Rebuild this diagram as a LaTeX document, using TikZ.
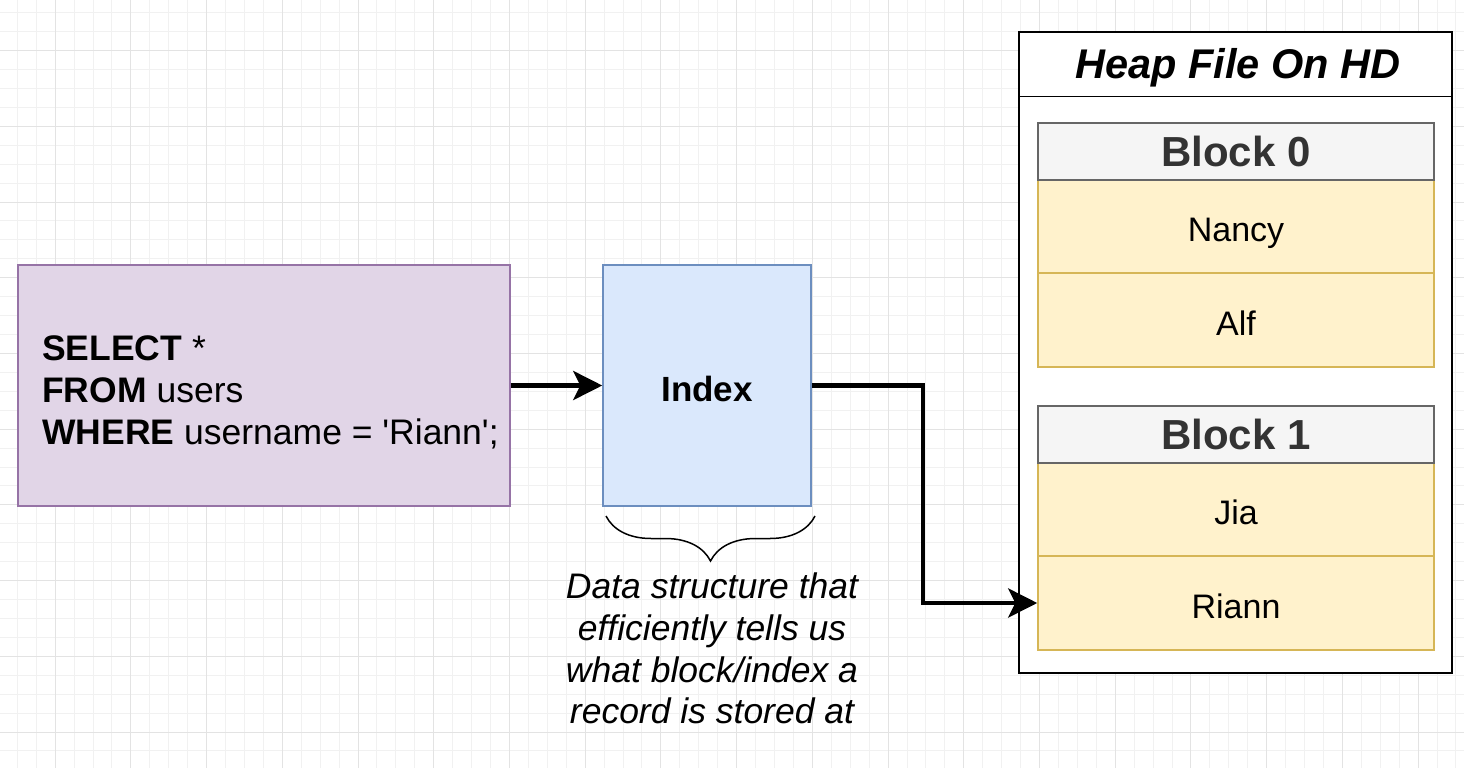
\documentclass[tikz,border=0pt]{standalone}
\usepackage{fontspec}
\setmainfont{Liberation Sans}
\usetikzlibrary{positioning, arrows.meta, decorations.pathreplacing}
\definecolor{querycolor}{HTML}{E1D5E7}
\definecolor{queryborder}{HTML}{9673A6}
\definecolor{indexcolor}{HTML}{DAE8FC}
\definecolor{indexborder}{HTML}{6C8EBF}
\definecolor{headcolor}{HTML}{F5F5F5}
\definecolor{headborder}{HTML}{666666}
\definecolor{headtext}{HTML}{333333}
\definecolor{recordcolor}{HTML}{FFF2CC}
\definecolor{recordborder}{HTML}{D6B656}
\definecolor{gridminor}{HTML}{F1F1F1}
\definecolor{gridmajor}{HTML}{E3E3E3}

\tikzset{
  blocktitle/.style={draw=headborder, fill=headcolor, line width=1.5pt, text=headtext,
    minimum width=396pt, minimum height=57pt, font=\fontsize{42}{50}\selectfont\bfseries},
  record/.style={draw=recordborder, fill=recordcolor, line width=1.5pt,
    minimum width=396pt, minimum height=94pt, text height=31.5pt, text depth=0pt,
    font=\fontsize{34}{40}\selectfont},
  link/.style={line width=4.5pt, -{Stealth[length=29pt, width=29pt, inset=7pt]}}
}

\begin{document}
\begin{tikzpicture}[x=1pt, y=-1pt]
            \useasboundingbox (0,0) rectangle (1464,768);
            \clip (0,0) rectangle (1464,768);

            % Raster
            \foreach \i in {0,...,78}
                \draw[gridminor, line width=1pt] (-1.63+\i*18.93, 0) -- ++(0,768);
            \foreach \j in {0,...,41}
                \draw[gridminor, line width=1pt] (0, -6.23+\j*18.93) -- ++(1464,0);
            \foreach \i in {3,7,...,75}
                \draw[gridmajor, line width=1pt] (-1.63+\i*18.93, 0) -- ++(0,768);
            \foreach \j in {3,7,...,39}
                \draw[gridmajor, line width=1pt] (0, -6.23+\j*18.93) -- ++(1464,0);

            % Consulta
            \node[draw=queryborder, fill=querycolor, line width=1.5pt, minimum width=492pt,
                  minimum height=241pt] (query) at (264,385.5) {};
            \node[anchor=west, align=left, inner sep=0pt, font=\fontsize{35.5}{42}\selectfont] (sql) at (42,392)
                  {\textbf{SELECT} *\\ \textbf{FROM} users\\ \textbf{WHERE} username = \textquotesingle Riann\textquotesingle;};

            % Indice
            \node[draw=indexborder, fill=indexcolor, line width=1.5pt, minimum width=208pt,
                  minimum height=241pt] (index) at (707,385.5) {};
            \node[font=\fontsize{35}{42}\selectfont\bfseries] at ([yshift=-3pt]index) {Index};

            \draw[link] (query) -- (index);

            % Llave y nota
            \coordinate (bracel) at (606,516);
            \coordinate (bracer) at (815,516);
            \draw[decorate, decoration={brace, amplitude=45pt, aspect=0.5}, line width=1.5pt] (bracer) -- (bracel);
            \node[font=\fontsize{35.5}{41.7}\selectfont\itshape, align=center] (note) at (712,648.5)
                  {Data structure that\\ efficiently tells us\\ what block/index a\\ record is stored at};

            % Archivo heap
            \node[draw, fill=white, line width=1.5pt, minimum width=433pt,
                  minimum height=641pt] (heap) at (1235.5,352.5) {};
            \draw[line width=1.5pt] ([yshift=-65pt]heap.north west) -- ([yshift=-65pt]heap.north east);
            \node[font=\fontsize{41.5}{48}\selectfont\bfseries\itshape] (title) at (1238,68) {Heap File On HD};

            % Bloque 0
            \node[record] (nancy) at (1236,226) {Nancy};
            \node[record] (alf) at (1236,320) {Alf};
            \node[blocktitle] (block0) at (1236,151.5) {Block 0};

            % Bloque 1
            \node[record] (jia) at (1236,509) {Jia};
            \node[record] (riann) at (1236,603) {Riann};
            \node[blocktitle] (block1) at (1236,434.5) {Block 1};

            \coordinate (bend) at (923,494);
            \draw[link] (index.east) -| (bend) |- (riann.west);
        \end{tikzpicture}
\end{document}
